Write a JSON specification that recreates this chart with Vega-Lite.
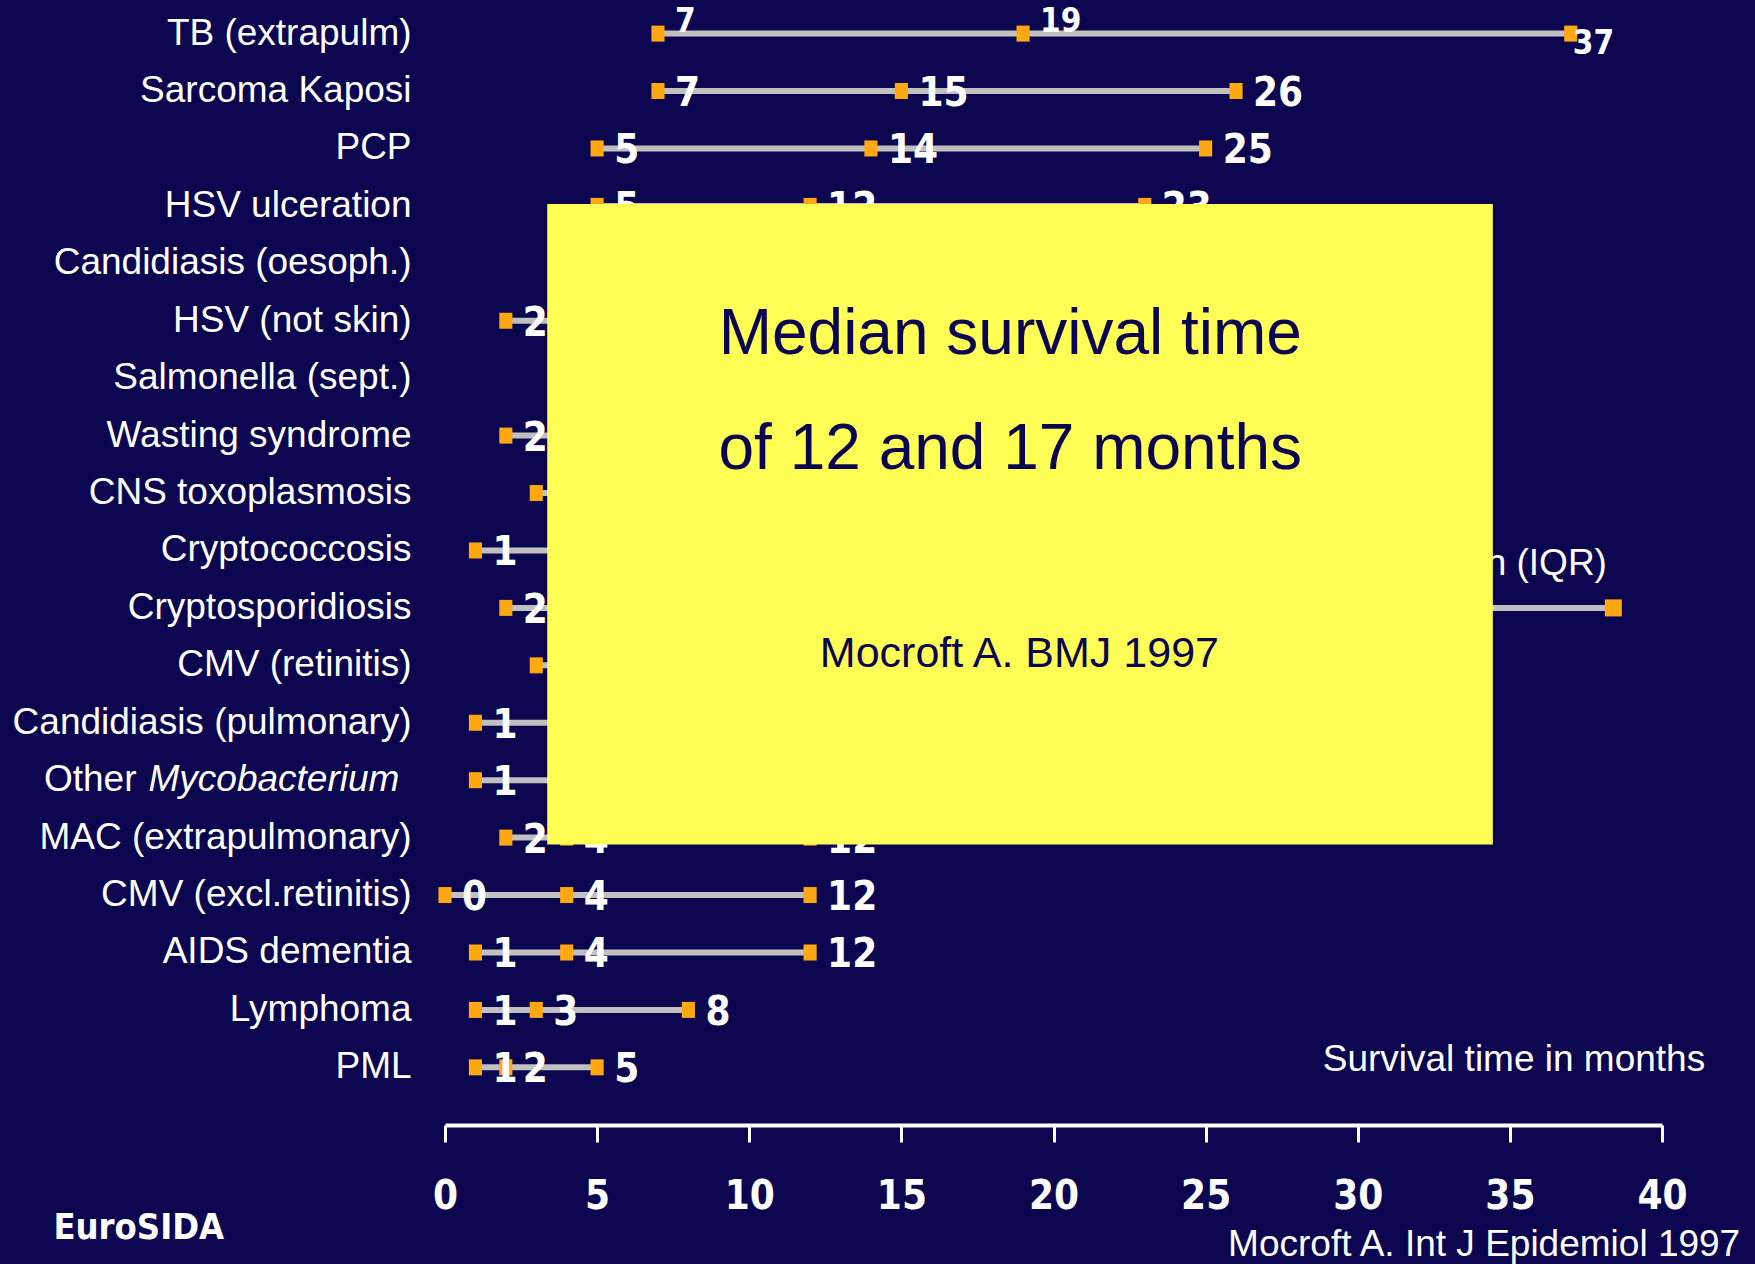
{
  "$schema": "https://vega.github.io/schema/vega-lite/v6.json",
  "width": 1217,
  "height": 1125,
  "autosize": {"type": "none"},
  "padding": {"left": 445, "top": 0, "right": 93, "bottom": 139},
  "background": "#0C0650",
  "config": {
    "view": {"stroke": null},
    "axisX": {
      "domainColor": "#FFFFFF",
      "domainWidth": 4,
      "tickColor": "#FFFFFF",
      "tickWidth": 3,
      "tickSize": 17,
      "labelColor": "#FFFFFF",
      "labelFont": "'Liberation Sans Narrow', 'DejaVu Sans Condensed', sans-serif",
      "labelFontWeight": "bold",
      "labelFontSize": 40,
      "labelPadding": 34,
      "labelFlush": false,
      "labelOverlap": false,
      "grid": false
    }
  },
  "datasets": {
    "rows": [
      {"idx": 0, "condition": "TB (extrapulm)", "low": 7, "median": 19, "high": 37},
      {"idx": 1, "condition": "Sarcoma Kaposi", "low": 7, "median": 15, "high": 26},
      {"idx": 2, "condition": "PCP", "low": 5, "median": 14, "high": 25},
      {"idx": 3, "condition": "HSV ulceration", "low": 5, "median": 12, "high": 23},
      {"idx": 4, "condition": "Candidiasis (oesoph.)", "low": 5, "median": 12, "high": 22},
      {"idx": 5, "condition": "HSV (not skin)", "low": 2, "median": 11, "high": 21},
      {"idx": 6, "condition": "Salmonella (sept.)", "low": 4, "median": 11, "high": 22},
      {"idx": 7, "condition": "Wasting syndrome", "low": 2, "median": 10, "high": 20},
      {"idx": 8, "condition": "CNS toxoplasmosis", "low": 3, "median": 9, "high": 18},
      {"idx": 9, "condition": "Cryptococcosis", "low": 1, "median": 8, "high": 17},
      {"idx": 10, "condition": "Cryptosporidiosis", "low": 2, "median": 8, "high": 18},
      {"idx": 11, "condition": "CMV (retinitis)", "low": 3, "median": 8, "high": 16},
      {"idx": 12, "condition": "Candidiasis (pulmonary)", "low": 1, "median": 6, "high": 14},
      {"idx": 13, "condition": "Other Mycobacterium", "low": 1, "median": 5, "high": 13},
      {"idx": 14, "condition": "MAC (extrapulmonary)", "low": 2, "median": 4, "high": 12},
      {"idx": 15, "condition": "CMV (excl.retinitis)", "low": 0, "median": 4, "high": 12},
      {"idx": 16, "condition": "AIDS dementia", "low": 1, "median": 4, "high": 12},
      {"idx": 17, "condition": "Lymphoma", "low": 1, "median": 3, "high": 8},
      {"idx": 18, "condition": "PML", "low": 1, "median": 2, "high": 5}
    ],
    "box": [{"x1": 3.36, "x2": 34.44, "y1": 2.967, "y2": 14.12}],
    "boxTitle": [
      {"text": "Median survival time", "x": 18.58, "y": 5.243},
      {"text": "of 12 and 17 months", "x": 18.58, "y": 7.25}
    ],
    "boxCite": [{"text": "Mocroft A. BMJ 1997", "x": 18.88, "y": 10.8}],
    "legendLine": [{"x1": 24, "x2": 38.4, "y": 10}],
    "legendMarks": [{"x": 24, "y": 10}, {"x": 31.2, "y": 10}, {"x": 38.4, "y": 10}],
    "legendText": [{"text": "Median (IQR)", "x": 38.19, "y": 9.236}],
    "axisTitle": [{"text": "Survival time in months", "x": 41.42, "y": 17.87}],
    "footer": [{"text": "Mocroft A. Int J Epidemiol 1997", "x": 42.57, "y": 21.09}],
    "brand": [{"text": "EuroSIDA", "x": -12.87, "y": 20.8}]
  },
  "layer": [
    {
      "data": {"name": "rows"},
      "mark": {"type": "rule", "color": "#C0C0C0", "strokeWidth": 6},
      "encoding": {
        "x": {"field": "low", "type": "quantitative", "title": null, "axis": {"values": [0, 5, 10, 15, 20, 25, 30, 35, 40]}, "scale": {"domain": [0, 40], "nice": false, "zero": false}},
        "x2": {"field": "high"},
        "y": {"field": "idx", "type": "quantitative", "axis": null, "scale": {"domain": [-0.585, 19.004], "reverse": true, "nice": false, "zero": false}}
      }
    },
    {
      "data": {"name": "rows"},
      "transform": [{"fold": ["low", "median", "high"], "as": ["key", "value"]}],
      "mark": {"type": "point", "shape": "M-0.82,-1H0.82V1H-0.82Z", "filled": true, "size": 256, "color": "#FFA812", "opacity": 1, "strokeWidth": 0},
      "encoding": {
        "x": {"field": "value", "type": "quantitative", "title": null, "axis": {"values": [0, 5, 10, 15, 20, 25, 30, 35, 40]}, "scale": {"domain": [0, 40], "nice": false, "zero": false}},
        "y": {"field": "idx", "type": "quantitative", "axis": null, "scale": {"domain": [-0.585, 19.004], "reverse": true, "nice": false, "zero": false}}
      }
    },
    {
      "data": {"name": "rows"},
      "transform": [{"fold": ["low", "median", "high"], "as": ["key", "value"]}, {"filter": "datum.idx != 0 && !(datum.idx >= 4 && datum.idx <= 13 && datum.value >= 3)"}],
      "mark": {"type": "text", "align": "left", "baseline": "middle", "dx": 17, "dy": 3, "font": "'Liberation Sans Narrow', 'DejaVu Sans Condensed', sans-serif", "fontWeight": "bold", "fontSize": 40, "color": "#FFFFFF"},
      "encoding": {
        "x": {"field": "value", "type": "quantitative", "title": null, "axis": {"values": [0, 5, 10, 15, 20, 25, 30, 35, 40]}, "scale": {"domain": [0, 40], "nice": false, "zero": false}},
        "y": {"field": "idx", "type": "quantitative", "axis": null, "scale": {"domain": [-0.585, 19.004], "reverse": true, "nice": false, "zero": false}},
        "text": {"field": "value", "type": "quantitative", "format": "d"}
      }
    },
    {
      "data": {"name": "rows"},
      "transform": [{"fold": ["low", "median", "high"], "as": ["key", "value"]}, {"filter": "datum.idx == 0 && datum.key != 'high'"}],
      "mark": {"type": "text", "align": "left", "baseline": "middle", "dx": 17, "dy": -12, "font": "'Liberation Sans Narrow', 'DejaVu Sans Condensed', sans-serif", "fontWeight": "bold", "fontSize": 33, "color": "#FFFFFF"},
      "encoding": {
        "x": {"field": "value", "type": "quantitative", "title": null, "axis": {"values": [0, 5, 10, 15, 20, 25, 30, 35, 40]}, "scale": {"domain": [0, 40], "nice": false, "zero": false}},
        "y": {"field": "idx", "type": "quantitative", "axis": null, "scale": {"domain": [-0.585, 19.004], "reverse": true, "nice": false, "zero": false}},
        "text": {"field": "value", "type": "quantitative", "format": "d"}
      }
    },
    {
      "data": {"name": "rows"},
      "transform": [{"fold": ["low", "median", "high"], "as": ["key", "value"]}, {"filter": "datum.idx == 0 && datum.key == 'high'"}],
      "mark": {"type": "text", "align": "left", "baseline": "middle", "dx": 2, "dy": 10, "font": "'Liberation Sans Narrow', 'DejaVu Sans Condensed', sans-serif", "fontWeight": "bold", "fontSize": 33, "color": "#FFFFFF"},
      "encoding": {
        "x": {"field": "value", "type": "quantitative", "title": null, "axis": {"values": [0, 5, 10, 15, 20, 25, 30, 35, 40]}, "scale": {"domain": [0, 40], "nice": false, "zero": false}},
        "y": {"field": "idx", "type": "quantitative", "axis": null, "scale": {"domain": [-0.585, 19.004], "reverse": true, "nice": false, "zero": false}},
        "text": {"field": "value", "type": "quantitative", "format": "d"}
      }
    },
    {
      "data": {"name": "rows"},
      "transform": [{"filter": "datum.idx != 13"}],
      "mark": {"type": "text", "align": "right", "baseline": "middle", "dy": 0, "font": "Liberation Sans", "fontSize": 37, "color": "#FFFFFF"},
      "encoding": {
        "x": {"datum": -1.1, "type": "quantitative", "title": null, "axis": {"values": [0, 5, 10, 15, 20, 25, 30, 35, 40]}, "scale": {"domain": [0, 40], "nice": false, "zero": false}},
        "y": {"field": "idx", "type": "quantitative", "axis": null, "scale": {"domain": [-0.585, 19.004], "reverse": true, "nice": false, "zero": false}},
        "text": {"field": "condition", "type": "nominal"}
      }
    },
    {
      "data": {"name": "rows"},
      "transform": [{"filter": "datum.idx == 13"}],
      "mark": {"type": "text", "text": "Mycobacterium", "align": "right", "baseline": "middle", "dy": 0, "font": "Liberation Sans", "fontStyle": "italic", "fontSize": 37, "color": "#FFFFFF"},
      "encoding": {
        "x": {"datum": -1.5, "type": "quantitative", "title": null, "axis": {"values": [0, 5, 10, 15, 20, 25, 30, 35, 40]}, "scale": {"domain": [0, 40], "nice": false, "zero": false}},
        "y": {"field": "idx", "type": "quantitative", "axis": null, "scale": {"domain": [-0.585, 19.004], "reverse": true, "nice": false, "zero": false}}
      }
    },
    {
      "data": {"name": "rows"},
      "transform": [{"filter": "datum.idx == 13"}],
      "mark": {"type": "text", "text": "Other", "align": "right", "baseline": "middle", "dy": 0, "font": "Liberation Sans", "fontSize": 37, "color": "#FFFFFF"},
      "encoding": {
        "x": {"datum": -10.14, "type": "quantitative", "title": null, "axis": {"values": [0, 5, 10, 15, 20, 25, 30, 35, 40]}, "scale": {"domain": [0, 40], "nice": false, "zero": false}},
        "y": {"field": "idx", "type": "quantitative", "axis": null, "scale": {"domain": [-0.585, 19.004], "reverse": true, "nice": false, "zero": false}}
      }
    },
    {
      "data": {"name": "legendLine"},
      "mark": {"type": "rule", "color": "#C0C0C0", "strokeWidth": 6},
      "encoding": {
        "x": {"field": "x1", "type": "quantitative", "title": null, "axis": {"values": [0, 5, 10, 15, 20, 25, 30, 35, 40]}, "scale": {"domain": [0, 40], "nice": false, "zero": false}},
        "x2": {"field": "x2"},
        "y": {"field": "y", "type": "quantitative", "axis": null, "scale": {"domain": [-0.585, 19.004], "reverse": true, "nice": false, "zero": false}}
      }
    },
    {
      "data": {"name": "legendMarks"},
      "mark": {"type": "point", "shape": "square", "filled": true, "size": 289, "color": "#FFA812", "opacity": 1, "strokeWidth": 0},
      "encoding": {
        "x": {"field": "x", "type": "quantitative", "title": null, "axis": {"values": [0, 5, 10, 15, 20, 25, 30, 35, 40]}, "scale": {"domain": [0, 40], "nice": false, "zero": false}},
        "y": {"field": "y", "type": "quantitative", "axis": null, "scale": {"domain": [-0.585, 19.004], "reverse": true, "nice": false, "zero": false}}
      }
    },
    {
      "data": {"name": "legendText"},
      "mark": {"type": "text", "align": "right", "baseline": "middle", "font": "Liberation Sans", "fontSize": 37, "color": "#FFFFFF"},
      "encoding": {
        "x": {"field": "x", "type": "quantitative", "title": null, "axis": {"values": [0, 5, 10, 15, 20, 25, 30, 35, 40]}, "scale": {"domain": [0, 40], "nice": false, "zero": false}},
        "y": {"field": "y", "type": "quantitative", "axis": null, "scale": {"domain": [-0.585, 19.004], "reverse": true, "nice": false, "zero": false}},
        "text": {"field": "text", "type": "nominal"}
      }
    },
    {
      "data": {"name": "box"},
      "mark": {"type": "rect", "color": "#FFFF55", "opacity": 1},
      "encoding": {
        "x": {"field": "x1", "type": "quantitative", "title": null, "axis": {"values": [0, 5, 10, 15, 20, 25, 30, 35, 40]}, "scale": {"domain": [0, 40], "nice": false, "zero": false}},
        "x2": {"field": "x2"},
        "y": {"field": "y1", "type": "quantitative", "axis": null, "scale": {"domain": [-0.585, 19.004], "reverse": true, "nice": false, "zero": false}},
        "y2": {"field": "y2"}
      }
    },
    {
      "data": {"name": "boxTitle"},
      "mark": {"type": "text", "align": "center", "baseline": "middle", "font": "Liberation Sans", "fontSize": 64, "color": "#0C0650"},
      "encoding": {
        "x": {"field": "x", "type": "quantitative", "title": null, "axis": {"values": [0, 5, 10, 15, 20, 25, 30, 35, 40]}, "scale": {"domain": [0, 40], "nice": false, "zero": false}},
        "y": {"field": "y", "type": "quantitative", "axis": null, "scale": {"domain": [-0.585, 19.004], "reverse": true, "nice": false, "zero": false}},
        "text": {"field": "text", "type": "nominal"}
      }
    },
    {
      "data": {"name": "boxCite"},
      "mark": {"type": "text", "align": "center", "baseline": "middle", "font": "Liberation Sans", "fontSize": 43, "color": "#0C0650"},
      "encoding": {
        "x": {"field": "x", "type": "quantitative", "title": null, "axis": {"values": [0, 5, 10, 15, 20, 25, 30, 35, 40]}, "scale": {"domain": [0, 40], "nice": false, "zero": false}},
        "y": {"field": "y", "type": "quantitative", "axis": null, "scale": {"domain": [-0.585, 19.004], "reverse": true, "nice": false, "zero": false}},
        "text": {"field": "text", "type": "nominal"}
      }
    },
    {
      "data": {"name": "axisTitle"},
      "mark": {"type": "text", "align": "right", "baseline": "middle", "font": "Liberation Sans", "fontSize": 37, "color": "#FFFFFF"},
      "encoding": {
        "x": {"field": "x", "type": "quantitative", "title": null, "axis": {"values": [0, 5, 10, 15, 20, 25, 30, 35, 40]}, "scale": {"domain": [0, 40], "nice": false, "zero": false}},
        "y": {"field": "y", "type": "quantitative", "axis": null, "scale": {"domain": [-0.585, 19.004], "reverse": true, "nice": false, "zero": false}},
        "text": {"field": "text", "type": "nominal"}
      }
    },
    {
      "data": {"name": "footer"},
      "mark": {"type": "text", "align": "right", "baseline": "middle", "font": "Liberation Sans", "fontSize": 37, "color": "#FFFFFF"},
      "encoding": {
        "x": {"field": "x", "type": "quantitative", "title": null, "axis": {"values": [0, 5, 10, 15, 20, 25, 30, 35, 40]}, "scale": {"domain": [0, 40], "nice": false, "zero": false}},
        "y": {"field": "y", "type": "quantitative", "axis": null, "scale": {"domain": [-0.585, 19.004], "reverse": true, "nice": false, "zero": false}},
        "text": {"field": "text", "type": "nominal"}
      }
    },
    {
      "data": {"name": "brand"},
      "mark": {"type": "text", "align": "left", "baseline": "middle", "font": "'Liberation Sans Narrow', 'DejaVu Sans Condensed', sans-serif", "fontWeight": "bold", "fontSize": 36, "color": "#FFFFFF"},
      "encoding": {
        "x": {"field": "x", "type": "quantitative", "title": null, "axis": {"values": [0, 5, 10, 15, 20, 25, 30, 35, 40]}, "scale": {"domain": [0, 40], "nice": false, "zero": false}},
        "y": {"field": "y", "type": "quantitative", "axis": null, "scale": {"domain": [-0.585, 19.004], "reverse": true, "nice": false, "zero": false}},
        "text": {"field": "text", "type": "nominal"}
      }
    }
  ]
}
